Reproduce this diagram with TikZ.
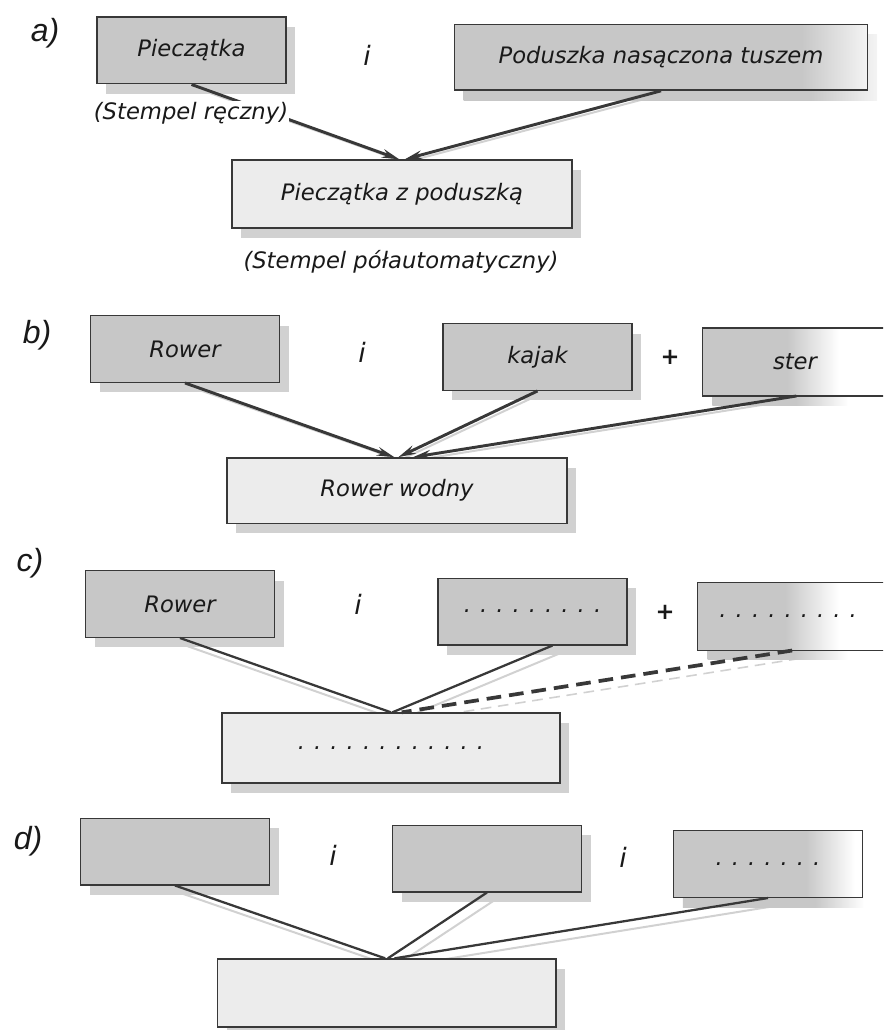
\documentclass[tikz,border=0pt]{standalone}
\usepackage{fontspec}
\usepackage{tikz}
\usetikzlibrary{arrows.meta,positioning,shadows,backgrounds}
\newfontfamily\handfam{DejaVu Sans}
\newfontfamily\labfam{Liberation Sans}
\definecolor{darkC}{rgb}{0.78,0.78,0.78}
\definecolor{paleC}{rgb}{0.925,0.925,0.925}
\definecolor{shadowC}{rgb}{0.82,0.82,0.82}
\definecolor{lineC}{rgb}{0.22,0.22,0.22}
\definecolor{inkC}{rgb}{0.1,0.1,0.1}
\newcommand{\boxfont}{\handfam\itshape\fontsize{17}{20}\selectfont}
\newcommand{\symfont}{\handfam\itshape\fontsize{20}{24}\selectfont}
\newcommand{\labfont}{\labfam\itshape\fontsize{24}{28}\selectfont}
\newcommand{\dotrow}[1]{.\foreach\k in {2,...,#1}{\hspace{6.8pt}.}}
\pgfdeclarehorizontalshading{fadePad}{100bp}{color(0bp)=(darkC); color(25bp)=(darkC); color(67bp)=(darkC); color(77bp)=(white); color(100bp)=(white)}
\pgfdeclarehorizontalshading{fadeMid}{100bp}{color(0bp)=(darkC); color(25bp)=(darkC); color(60bp)=(darkC); color(73bp)=(white); color(100bp)=(white)}
\pgfdeclarehorizontalshading{fadeEarly}{100bp}{color(0bp)=(darkC); color(25bp)=(darkC); color(46bp)=(darkC); color(59bp)=(white); color(100bp)=(white)}
\tikzset{
  boxbase/.style={draw=lineC, line width=1pt, minimum width=141.75pt,
    minimum height=50pt, font=\boxfont, text=inkC},
  darkbox/.style={boxbase, fill=darkC, drop shadow={shadow xshift=7pt,
    shadow yshift=-7.5pt, fill=shadowC, opacity=1}},
  fadebox/.style={boxbase, shade, shading=#1, drop shadow={shadow xshift=7pt,
    shadow yshift=-7.5pt, fill=none, shade, shading=#1, opacity=1}},
  palebox/.style={boxbase, fill=paleC, minimum width=255pt, drop shadow={shadow xshift=7pt,
    shadow yshift=-7.5pt, fill=shadowC, opacity=1}},
  openedge/.style={draw=lineC, line width=1pt},
  lbl/.style={font=\labfont, text=inkC},
  sym/.style={font=\symfont, text=inkC},
  plus/.style={font=\handfam\bfseries\fontsize{17}{20}\selectfont, text=inkC},
  note/.style={font=\boxfont, text=inkC},
  arrowline/.style={draw=lineC, line width=2.2pt, -{Stealth[length=13pt,width=6.5pt]}},
  plainline/.style={draw=lineC, line width=1.7pt},
  dashline/.style={draw=lineC, line width=2.8pt, dash pattern=on 11pt off 6pt},
  lineshadow/.style={draw=shadowC, line width=1.5pt},
}

\begin{document}
\begin{tikzpicture}[x=0.75pt,y=-0.75pt]
  \useasboundingbox (0,0) rectangle (883,1030);
  \clip (0,0) rectangle (883,1030);

  % a) stamp and ink pad
  \node[lbl] (lblA) at (45,33) {a)};
  \node[darkbox] (pieczatka) at (191.5,50.5) {Pieczątka};
  \node[sym] (andA) at (367,55) {i};
  \node[fadebox=fadePad, minimum width=310pt, minimum height=49pt] (poduszka) at (661,57.5)
    {Poduszka nasączona tuszem};
  \node[palebox, minimum height=51pt] (stempel) at (402,194) {Pieczątka z poduszką};
  \draw[arrowline] (pieczatka.south) -- ([xshift=-2pt]stempel.north);
  \draw[arrowline] (poduszka.south) -- ([xshift=2pt]stempel.north);
  \node[note, fill=white, inner sep=1pt] (recznyA) at (191,113) {(Stempel ręczny)};
  \node[note] (polautA) at (401,262) {(Stempel półautomatyczny)};

  % b) water bike
  \node[lbl] (lblB) at (37,335) {b)};
  \node[darkbox] (rowerB) at (185,349) {Rower};
  \node[sym] (andB) at (362,352) {i};
  \node[darkbox] (kajak) at (537.5,357) {kajak};
  \node[plus] (plusB) at (670,357) {+};
  \node[fadebox=fadeEarly, draw=none, minimum width=150pt] (ster) at (803,362)
    {\hspace*{-12pt}ster};
  \draw[openedge] (ster.north east) -- (ster.north west) -- (ster.south west) -- (ster.south east);
  \node[palebox, minimum height=49pt] (wodny) at (397,490.5) {Rower wodny};
  \draw[arrowline] (rowerB.south) -- ([xshift=-2pt]wodny.north);
  \draw[arrowline] (kajak.south) -- ([xshift=1pt]wodny.north);
  \draw[arrowline] ([xshift=-5pt]ster.south) -- ([xshift=12pt]wodny.north);

  % c) to be filled in
  \node[lbl] (lblC) at (30,563) {c)};
  \node[darkbox] (rowerC) at (180,604) {Rower};
  \node[sym] (andC) at (358,604) {i};
  \node[darkbox] (czescC) at (532.5,611.5) {\dotrow{9}};
  \node[plus] (plusC) at (665,612) {+};
  \node[fadebox=fadeEarly, draw=none, minimum width=155pt] (dodatekC) at (801.5,616.5)
    {\hspace*{-20pt}\dotrow{9}};
  \draw[openedge] (dodatekC.north east) -- (dodatekC.north west) -- (dodatekC.south west)
    -- (dodatekC.south east);
  \node[palebox, minimum width=253.5pt, minimum height=52.5pt] (wynikC) at (391,748) {\dotrow{12}};
  \draw[plainline] (rowerC.south) -- (wynikC.north);
  \draw[plainline] ([xshift=15pt]czescC.south) -- ([xshift=1pt]wynikC.north);
  \draw[dashline] ([xshift=-7pt]dodatekC.south) -- ([xshift=8pt]wynikC.north);

  % d) empty scheme
  \node[lbl] (lblD) at (28,841) {d)};
  \node[darkbox] (skladD1) at (175,851.5) {};
  \node[sym] (andD1) at (333,855) {i};
  \node[darkbox] (skladD2) at (487,858.5) {};
  \node[sym] (andD2) at (623,857) {i};
  \node[fadebox=fadeMid] (skladD3) at (768,864) {\dotrow{7}};
  \node[palebox, minimum width=254pt, minimum height=51pt] (wynikD) at (386.5,993) {};
  \draw[plainline] (skladD1.south) -- ([xshift=-1pt]wynikD.north);
  \draw[plainline] (skladD2.south) -- ([xshift=1pt]wynikD.north);
  \draw[plainline] (skladD3.south) -- ([xshift=6pt]wynikD.north);

  % connector shadows
  \begin{scope}[on background layer]
    \draw[lineshadow] ([shift={(3,3)}]pieczatka.south) -- ([shift={(3,3)}]stempel.north);
    \draw[lineshadow] ([shift={(3,3)}]poduszka.south) -- ([shift={(3,3)}]stempel.north);
    \draw[lineshadow] ([shift={(3,3)}]rowerB.south) -- ([shift={(3,3)}]wodny.north);
    \draw[lineshadow] ([shift={(3,3)}]kajak.south) -- ([shift={(3,3)}]wodny.north);
    \draw[lineshadow] ([shift={(-4,3)}]ster.south) -- ([shift={(19,3)}]wodny.north);
    \draw[lineshadow] ([shift={(7,8)}]rowerC.south) -- ([shift={(7,8)}]wynikC.north);
    \draw[lineshadow] ([shift={(27,8)}]czescC.south) -- ([shift={(8,8)}]wynikC.north);
    \draw[lineshadow, line width=1.2pt, dash pattern=on 8pt off 5pt]
      ([shift={(-2,8)}]dodatekC.south) -- ([shift={(18,8)}]wynikC.north);
    \draw[lineshadow] ([shift={(7,8)}]skladD1.south) -- ([shift={(6,8)}]wynikD.north);
    \draw[lineshadow] ([shift={(7,8)}]skladD2.south) -- ([shift={(8,8)}]wynikD.north);
    \draw[lineshadow] ([shift={(7,8)}]skladD3.south) -- ([shift={(14,8)}]wynikD.north);
  \end{scope}
\end{tikzpicture}
\end{document}
